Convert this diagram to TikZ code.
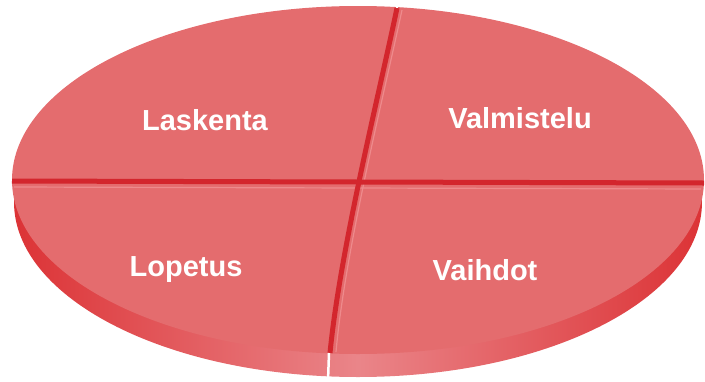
\documentclass[tikz,border=0pt]{standalone}
\usepackage{fontspec}
\setmainfont{Liberation Sans}
\definecolor{face}{HTML}{E46C6E}
\definecolor{divider}{HTML}{D3262D}
\definecolor{sideA}{HTML}{DC3336}
\definecolor{sideB}{HTML}{EA8589}
\definecolor{hilite}{HTML}{EE8A8C}
\tikzset{
  label/.style={text=white, font=\bfseries\fontsize{29}{33}\selectfont, inner sep=0pt},
  divline/.style={draw=divider, line width=5pt},
  hiline/.style={draw=hilite, line width=1.2pt},
}
\begin{document}
\begin{tikzpicture}[x=1pt,y=-1pt]
\useasboundingbox (0,0) rectangle (705,381);
% side band
\shade[left color=sideA, right color=sideA, middle color=sideB] (358,202) ellipse [x radius=344, y radius=175];
% top face
\fill[face] (358,180) ellipse [x radius=346, y radius=174];
% highlights next to the dividers
\draw[hiline] (14,187) -- (701,189);
\draw[hiline] (402,10) .. controls (385,90) and (345,250) .. (336,352);
% dividers
\draw[divline] (12,181) -- (704,183);
\draw[divline] (397,8) .. controls (380,90) and (340,250) .. (330,353);
% gaps
\draw[white, line width=2.5pt] (329,353) -- (328,381);
\draw[white, line width=2.5pt] (397,0) -- (397,8);
% labels
\node[label] (laskenta) at (205,120) {Laskenta};
\node[label] (valmistelu) at (520,118) {Valmistelu};
\node[label] (lopetus) at (186,270) {Lopetus};
\node[label] (vaihdot) at (485,270) {Vaihdot};
\end{tikzpicture}
\end{document}
